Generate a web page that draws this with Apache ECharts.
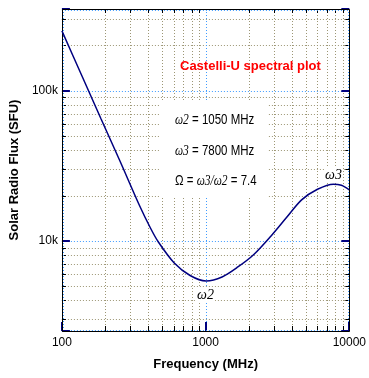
<!DOCTYPE html>
<html>
<head>
<meta charset="utf-8">
<style>
html,body{margin:0;padding:0;background:#fff;}
#chart{width:369px;height:378px;}
</style>
<script src="https://cdn.jsdelivr.net/npm/echarts@6/dist/echarts.min.js"></script>
</head>
<body>
<div id="chart"></div>
<script>
// ---- data ----
const freqMHz = [100, 137.9, 187.3, 254.3, 345.3, 413, 469, 605, 780, 1008, 1301, 1677, 2165, 2865, 3643, 4655, 6007, 7745, 8810, 10000];
const fluxSFU = [250000, 125200, 64700, 33700, 17300, 12150, 9800, 7100, 5860, 5390, 5730, 6680, 8090, 10800, 14200, 18700, 22000, 23800, 23400, 21800];
const xMinorTicks = [200, 300, 400, 500, 600, 700, 800, 900, 2000, 3000, 4000, 5000, 6000, 7000, 8000, 9000];
const yMinorTicks = [3000, 4000, 5000, 6000, 7000, 8000, 9000, 20000, 30000, 40000, 50000, 60000, 70000, 80000, 90000, 200000, 300000];
const xMajorTicks = [100, 1000, 10000];
const yMajorTicks = [2500, 10000, 100000, 350000];
const xTickLabels = {100: '100', 1000: '1000', 10000: '10000'};
const yTickLabels = {10000: '10k', 100000: '100k'};
const X_MIN = 100, X_MAX = 10000, Y_MIN = 2500, Y_MAX = 350000;
const titleText = 'Castelli-U spectral plot';
const infoLines = ['{w|ω2} = 1050 MHz', '{w|ω3} = 7800 MHz', 'Ω = {w|ω3/ω2} = 7.4'];
const peakLabels = ['ω2', 'ω3'];

const NAVY = '#000080';
const MINOR_GRID = '#9c9674';
const MAJOR_GRID = '#3f9cff';
const crisp = v => Math.round(v) + 0.5;

function labelFor(map, v) {
  for (const k in map) { if (Math.abs(Math.log10(v) - Math.log10(+k)) < 1e-6) return map[k]; }
  return '';
}

const chart = echarts.init(document.getElementById('chart'), null, {renderer: 'canvas'});

const baseLabelFont = {fontFamily: 'Liberation Sans, Arial, sans-serif', fontSize: 12, color: '#000'};
const nameFont = {fontFamily: 'Liberation Sans, Arial, sans-serif', fontSize: 13, fontWeight: 'bold', color: '#000'};
const infoFont = '14px "Liberation Sans", Arial, sans-serif';
const greekFont = 'italic 14px "Liberation Serif", serif';

function infoText(i, y) {
  return {type: 'text', z: 101, x: 175, y: y, scaleX: 0.82, originX: 0, originY: 0,
    style: {text: infoLines[i], fill: '#000', font: infoFont, align: 'left', verticalAlign: 'middle',
      rich: {w: {font: greekFont}}}};
}

const option = {
  animation: false,
  backgroundColor: '#fff',
  grid: {left: 49, right: 19, top: 9, bottom: 47, show: false},
  xAxis: [{
    type: 'log', logBase: 10, min: X_MIN, max: X_MAX,
    name: 'Frequency (MHz)', nameLocation: 'middle', nameGap: 27, nameTextStyle: nameFont,
    axisLine: {show: false}, axisTick: {show: false},
    axisLabel: Object.assign({margin: 6, formatter: v => labelFor(xTickLabels, v)}, baseLabelFont),
    splitLine: {show: false}, minorTick: {show: false}, minorSplitLine: {show: false}
  }],
  yAxis: [{
    type: 'log', logBase: 10, min: Y_MIN, max: Y_MAX, position: 'left',
    name: 'Solar Radio Flux (SFU)', nameLocation: 'middle', nameGap: 28, nameTextStyle: nameFont,
    axisLine: {show: false}, axisTick: {show: false},
    axisLabel: Object.assign({margin: 4, formatter: v => labelFor(yTickLabels, v)}, baseLabelFont),
    splitLine: {show: false}
  }],
  graphic: [
    {type: 'text', z: 100, left: 180, top: 60, style: {text: titleText, fill: '#ff0000', font: 'bold 13px "Liberation Sans", Arial, sans-serif'}},
    {type: 'rect', z: 100, shape: {x: 160, y: 100, width: 108, height: 98}, style: {fill: '#fff'}},
    infoText(0, 120),
    infoText(1, 151),
    infoText(2, 181),
    {type: 'text', z: 101, left: 196, top: 287, style: {text: peakLabels[0], fill: '#000', backgroundColor: '#fff', padding: [1, 1], font: greekFont}},
    {type: 'text', z: 101, left: 324, top: 167, style: {text: peakLabels[1], fill: '#000', backgroundColor: '#fff', padding: [1, 1], font: greekFont}}
  ],
  series: [
    {
      type: 'custom', name: 'xgrid', xAxisIndex: 0, yAxisIndex: 0, z: 1, silent: true, clip: false,
      data: xMinorTicks.map(v => [v, Y_MIN]),
      renderItem: function (params, api) {
        const x = api.value(0);
        const b = api.coord([x, Y_MIN]);
        const t = api.coord([x, Y_MAX]);
        const cx = crisp(b[0]);
        return {type: 'group', children: [
          {type: 'line', shape: {x1: cx, y1: t[1], x2: cx, y2: b[1]}, style: {stroke: MINOR_GRID, lineWidth: 1, lineDash: [1, 2]}},
          {type: 'line', shape: {x1: cx, y1: b[1], x2: cx, y2: b[1] - 5}, style: {stroke: '#000', lineWidth: 1}},
          {type: 'line', shape: {x1: cx, y1: t[1], x2: cx, y2: t[1] + 4}, style: {stroke: '#000', lineWidth: 1}}
        ]};
      }
    },
    {
      type: 'custom', name: 'ygrid', xAxisIndex: 0, yAxisIndex: 0, z: 1, silent: true, clip: false,
      data: yMinorTicks.map(v => [X_MIN, v]),
      renderItem: function (params, api) {
        const y = api.value(1);
        const l = api.coord([X_MIN, y]);
        const r = api.coord([X_MAX, y]);
        const cy = crisp(l[1]);
        return {type: 'group', children: [
          {type: 'line', shape: {x1: l[0], y1: cy, x2: r[0], y2: cy}, style: {stroke: MINOR_GRID, lineWidth: 1, lineDash: [1, 2]}},
          {type: 'line', shape: {x1: l[0], y1: cy, x2: l[0] + 4, y2: cy}, style: {stroke: '#000', lineWidth: 1}},
          {type: 'line', shape: {x1: r[0], y1: cy, x2: r[0] - 4, y2: cy}, style: {stroke: '#000', lineWidth: 1}}
        ]};
      }
    },
    {
      type: 'custom', name: 'xmajor', xAxisIndex: 0, yAxisIndex: 0, z: 2, silent: true, clip: false,
      data: xMajorTicks.map(v => [v, Y_MIN]),
      renderItem: function (params, api) {
        const x = api.value(0);
        const b = api.coord([x, Y_MIN]);
        const t = api.coord([x, Y_MAX]);
        let cx = crisp(b[0]);
        if (params.dataIndex === 0) cx += 1;
        if (params.dataIndex === xMajorTicks.length - 1) cx -= 1;
        return {type: 'group', children: [
          {type: 'line', shape: {x1: cx, y1: t[1], x2: cx, y2: b[1]}, style: {stroke: MAJOR_GRID, lineWidth: 1, lineDash: [1, 2]}},
          {type: 'line', shape: {x1: Math.round(b[0]), y1: b[1], x2: Math.round(b[0]), y2: b[1] - 9}, style: {stroke: NAVY, lineWidth: 2}}
        ]};
      }
    },
    {
      type: 'custom', name: 'ymajor', xAxisIndex: 0, yAxisIndex: 0, z: 2, silent: true, clip: false,
      data: yMajorTicks.map(v => [X_MIN, v]),
      renderItem: function (params, api) {
        const y = api.value(1);
        const l = api.coord([X_MIN, y]);
        const r = api.coord([X_MAX, y]);
        let cy = crisp(l[1]);
        if (params.dataIndex === 0) cy -= 1;
        if (params.dataIndex === yMajorTicks.length - 1) cy += 1;
        const ry = Math.round(l[1]);
        return {type: 'group', children: [
          {type: 'line', shape: {x1: l[0], y1: cy, x2: r[0], y2: cy}, style: {stroke: MAJOR_GRID, lineWidth: 1, lineDash: [1, 2]}},
          {type: 'line', shape: {x1: l[0], y1: ry, x2: l[0] + 8, y2: ry}, style: {stroke: NAVY, lineWidth: 2}},
          {type: 'line', shape: {x1: r[0], y1: ry, x2: r[0] - 8, y2: ry}, style: {stroke: NAVY, lineWidth: 2}}
        ]};
      }
    },
    {
      type: 'custom', name: 'frame', xAxisIndex: 0, yAxisIndex: 0, z: 3, silent: true, clip: false,
      data: [[X_MIN, Y_MIN]],
      renderItem: function (params, api) {
        const bl = api.coord([X_MIN, Y_MIN]);
        const tr = api.coord([X_MAX, Y_MAX]);
        const x0 = crisp(bl[0]), x1 = crisp(tr[0]), y0 = crisp(tr[1]), y1 = crisp(bl[1]);
        return {type: 'rect', shape: {x: x0, y: y0, width: x1 - x0, height: y1 - y0},
          style: {fill: null, stroke: '#000', lineWidth: 1}};
      }
    },
    {
      type: 'line', name: 'flux', xAxisIndex: 0, yAxisIndex: 0, z: 10,
      data: freqMHz.map((f, i) => [f, fluxSFU[i]]),
      showSymbol: false, symbol: 'none', smooth: 0.3,
      lineStyle: {color: NAVY, width: 1.5}
    }
  ]
};
chart.setOption(option);
</script>
</body>
</html>
